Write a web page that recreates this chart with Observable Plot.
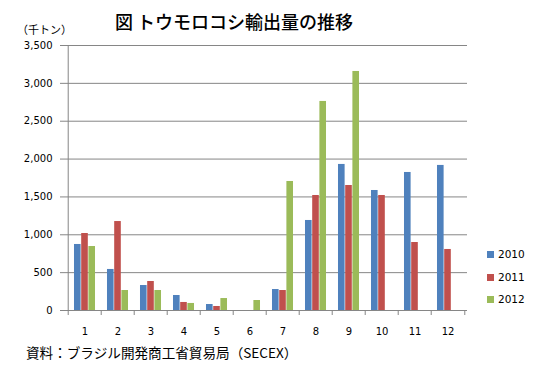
<!DOCTYPE html>
<html><head><meta charset="utf-8">
<script src="https://cdn.jsdelivr.net/npm/d3@7"></script>
<script src="https://cdn.jsdelivr.net/npm/@observablehq/plot@0.6"></script>
<style>
body{margin:0;background:#fff;}
#wrap{position:relative;width:537px;height:365px;overflow:hidden;font-family:"Noto Sans CJK JP","DejaVu Sans",sans-serif;}
#wrap svg{position:absolute;left:0;top:0;}
g[aria-label$="tick label"]{fill:#000;}
.abs{position:absolute;white-space:nowrap;color:#000;}
#title{left:115px;top:9px;font-size:18px;font-weight:500;line-height:24px;}
#unit{left:17px;top:21px;font-size:11px;line-height:16px;}
#caption{left:26px;top:342px;font-size:13.6px;line-height:20px;}
.leg{left:487px;font-family:"DejaVu Sans",sans-serif;font-size:10.5px;line-height:14px;}
.leg span{display:inline-block;width:7px;height:7px;margin-right:4px;vertical-align:0px;}
</style></head>
<body><div id="wrap"></div>
<script>
const months = ["1","2","3","4","5","6","7","8","9","10","11","12"];
const years = ["2010","2011","2012"];
const v2010 = [872,542,330,198,79,0,277,1189,1929,1585,1823,1916];
const v2011 = [1017,1175,383,106,53,0,264,1519,1651,1519,898,806];
const v2012 = [845,264,264,93,158,132,1704,2761,3157,null,null,null];
const yTicks = [0,500,1000,1500,2000,2500,3000,3500];
const colors = ["#4F81BD","#C0504D","#9BBB59"];
const titleText = "図 トウモロコシ輸出量の推移";
const unitText = "（千トン）";
const captionText = "資料：ブラジル開発商工省貿易局（SECEX）";

const W = 537, H = 365, mL = 64, mR = 70, mT = 45, mB = 55;
const bw = (W - mL - mR) / months.length;
const barW = 7.2;
const off = (bw - years.length * barW) / 2;
const seriesVals = [v2010, v2011, v2012];

const bars = seriesVals.map((vals, i) =>
  Plot.barY(months.map((m, j) => ({month: m, value: vals[j]})).filter(d => d.value != null), {
    x: "month", y: "value", fill: colors[i],
    insetLeft: off + i * barW, insetRight: bw - off - (i + 1) * barW
  })
);

const plot = Plot.plot({
  width: W, height: H,
  marginLeft: mL, marginRight: mR, marginTop: mT, marginBottom: mB,
  style: {fontFamily: "DejaVu Sans, sans-serif", fontSize: "10px", background: "transparent"},
  x: {domain: months, padding: 0, label: null, axis: null},
  y: {domain: [0, 3500], label: null, axis: null},
  marks: [
    Plot.ruleY(yTicks.filter(d => d > 0), {stroke: "#868686", strokeWidth: 1}),
    ...bars,
    Plot.ruleY([0], {stroke: "#868686"}),
    Plot.ruleX([months[0]], {y1: 0, y2: 3500, dx: -bw / 2, stroke: "#868686"}),
    Plot.axisY(yTicks, {tickSize: 4, tickPadding: 8, tickFormat: d3.format(","), color: "#868686", label: null}),
    Plot.axisX(months, {tickSize: 5, dx: -bw / 2, tickFormat: () => "", color: "#868686", label: null}),
    Plot.axisX([months[months.length - 1]], {tickSize: 5, dx: bw / 2, tickFormat: () => "", color: "#868686", label: null}),
    Plot.axisX(months, {tickSize: 0, tickPadding: 17, color: "#000", label: null})
  ]
});
const wrap = document.getElementById("wrap");
wrap.appendChild(plot);
function addDiv(id, cls, html, top) {
  const d = document.createElement("div");
  if (id) d.id = id;
  d.className = "abs " + (cls || "");
  d.innerHTML = html;
  if (top != null) d.style.top = top + "px";
  wrap.appendChild(d);
}
addDiv("title", "", titleText);
addDiv("unit", "", unitText);
addDiv("caption", "", captionText);
years.forEach((y, i) => addDiv(null, "leg", `<span style="background:${colors[i]}"></span>${y}`, 247 + i * 22.5));
</script></body></html>
